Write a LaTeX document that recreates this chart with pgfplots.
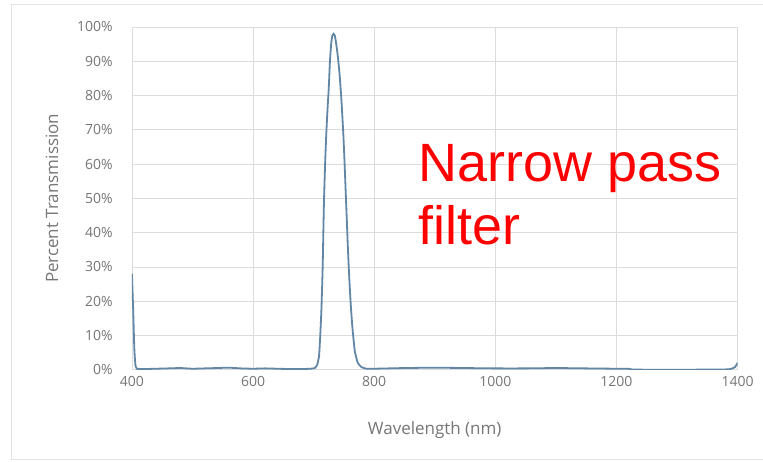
\documentclass[border=0pt]{standalone}
\usepackage{pgfplots}
\pgfplotsset{compat=1.18}
\usepackage{fontspec}
\setmainfont{Open Sans}
\newfontfamily\redfont{Liberation Sans}
\definecolor{txtgray}{RGB}{118,118,118}
\definecolor{gridgray}{RGB}{220,220,220}
\definecolor{linecol}{RGB}{98,134,165}
\definecolor{boxgray}{RGB}{228,228,228}
\begin{document}
\begin{tikzpicture}
\fill[white] (0pt,0pt) rectangle (763pt,462pt);
\draw[boxgray,line width=1pt] (763pt,457pt) -- (12pt,457pt) -- (12pt,2pt) -- (763pt,2pt);
\begin{axis}[
  at={(132pt,92pt)}, anchor=south west,
  scale only axis, width=606pt, height=343pt,
  xmin=400, xmax=1400, ymin=0, ymax=100,
  xtick={400,600,...,1400},
  ytick={0,10,...,100},
  yticklabel={\pgfmathprintnumber{\tick}\%},
  /pgf/number format/1000 sep={},
  /pgf/number format/assume math mode=true,
  grid=major,
  major grid style={gridgray, line width=0.8pt},
  axis line style={gridgray, line width=0.8pt},
  major tick length=0pt,
  tick label style={font=\fontsize{14}{16}\selectfont, text=txtgray},
  yticklabel style={anchor=east, inner sep=0pt, xshift=-19pt},
  xticklabel style={anchor=north, inner sep=0pt, yshift=-6pt},
  xlabel={Wavelength (nm)},
  ylabel={Percent Transmission},
  label style={font=\fontsize{17}{20}\selectfont, text=txtgray},
  xlabel style={at={(axis description cs:0.5,-0.175)}, anchor=center},
  ylabel style={at={(axis description cs:-0.132,0.5)}, anchor=center},
]
\addplot[linecol, line width=1.8pt, smooth, tension=0.3] coordinates {
(400,28) (402,18) (404,6) (406,1) (408,0.3) (420,0.2) (440,0.3) (460,0.4)
(480,0.5) (500,0.3) (520,0.4) (540,0.5) (560,0.6) (580,0.4) (600,0.3)
(620,0.4) (640,0.3) (660,0.2) (680,0.2) (695,0.3) (702,0.5) (706,1.5)
(709,4) (711,10) (713,18) (715,30) (717,48) (719,60) (721,69) (723,76)
(725,82) (727,90) (729,95) (731,97.5) (733,98) (735,97.5) (737,95.5)
(740,91.5) (743,86) (746,78.5) (749,69) (751,61) (753,52) (755,43) (757,34)
(759,26.5) (761,20) (764,12.5) (768,5.5) (773,2) (779,0.8) (787,0.3) (800,0.3)
(850,0.5) (900,0.6) (950,0.5) (1000,0.4) (1050,0.4) (1100,0.5) (1150,0.4)
(1200,0.3) (1220,0.3) (1230,0.05) (1300,0) (1380,0.1) (1390,0.3) (1396,0.8) (1400,2)
};
\end{axis}
\node[anchor=base west, inner sep=0pt, text=red, font=\redfont\fontsize{54}{60}\selectfont] at (419pt,280pt) {Narrow pass};
\node[anchor=base west, inner sep=0pt, text=red, font=\redfont\fontsize{54}{60}\selectfont] at (419pt,217pt) {filter};
\end{tikzpicture}
\end{document}
